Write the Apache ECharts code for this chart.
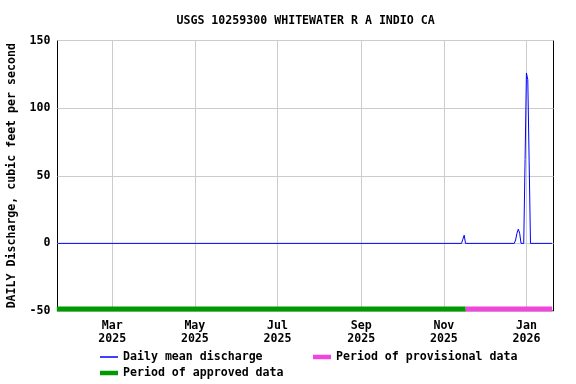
<!DOCTYPE html>
<html>
<head>
<meta charset="utf-8">
<script src="https://cdn.jsdelivr.net/npm/echarts@6/dist/echarts.min.js"></script>
<style>html,body{margin:0;padding:0;background:#fff}#c{width:576px;height:384px}</style>
</head>
<body>
<div id="c"></div>
<script>
// ---- data ----
const titleText = 'USGS 10259300 WHITEWATER R A INDIO CA';
const yAxisTitle = 'DAILY Discharge, cubic feet per second';
const dischargeDates = ['2025-01-20','2025-11-14','2025-11-15','2025-11-16','2025-11-17',
  '2025-12-23','2025-12-24','2025-12-25','2025-12-26','2025-12-27','2025-12-28',
  '2025-12-30','2025-12-31','2026-01-01','2026-01-02','2026-01-03','2026-01-04','2026-01-20'];
const dischargeValues = [0,0,3,6,0,
  0,2.5,7.5,10.5,7.5,0,
  0,62,126,121,61,0,0];
const approvedPeriod = ['2025-01-19','2025-11-17'];
const provisionalPeriod = ['2025-11-17','2026-01-20'];
const periodLevel = -48.6;
const xTickDates = ['2025-03-01','2025-05-01','2025-07-01','2025-09-01','2025-11-01','2026-01-01'];
const xMin = '2025-01-19T12:00:00';
const xMax = '2026-01-21';
const monthNames = ['Jan','Feb','Mar','Apr','May','Jun','Jul','Aug','Sep','Oct','Nov','Dec'];

function parseLocal(s){
  const [d,t] = s.split('T');
  const p = d.split('-').map(Number);
  let h=0,m=0;
  if (t){ const q=t.split(':').map(Number); h=q[0]; m=q[1]; }
  return new Date(p[0], p[1]-1, p[2], h, m).getTime();
}

const FONT = 'DejaVu Sans Mono';
const FS = 11.6;
const txt = {fontFamily: FONT, fontWeight: 'bold', fontSize: FS, color: '#000'};

const chart = echarts.init(document.getElementById('c'), null, {renderer: 'canvas'});
const xTickVals = xTickDates.map(parseLocal);

chart.setOption({
  animation: false,
  backgroundColor: '#fff',
  title: {
    text: titleText, left: 305.6, top: 14.5, textAlign: 'center', padding: 0,
    textStyle: Object.assign({}, txt)
  },
  grid: {
    left: 57.5, right: 22.5, top: 40.5, bottom: 73,
    show: true, borderColor: '#000', borderWidth: 1, backgroundColor: 'transparent',
    containLabel: false, outerBoundsMode: 'none'
  },
  legend: [
    {left: 100, top: 351, padding: 0, itemWidth: 18, itemHeight: 1.5, icon: 'rect',
     data: ['Daily mean discharge'], textStyle: Object.assign({}, txt)},
    {left: 313, top: 351, padding: 0, itemWidth: 18, itemHeight: 4.5, icon: 'rect',
     data: ['Period of provisional data'], textStyle: Object.assign({}, txt)},
    {left: 100, top: 367, padding: 0, itemWidth: 18, itemHeight: 4.5, icon: 'rect',
     data: ['Period of approved data'], textStyle: Object.assign({}, txt)}
  ],
  xAxis: {
    type: 'value',
    min: parseLocal(xMin), max: parseLocal(xMax),
    axisLine: {show: false},
    axisTick: {show: false, customValues: xTickVals},
    splitLine: {show: true, lineStyle: {color: '#cccccc', width: 1}},
    axisLabel: Object.assign({}, txt, {
      customValues: xTickVals, margin: 8.5, lineHeight: 13, align: 'center',
      showMinLabel: true, showMaxLabel: true,
      formatter: function(v){ const d = new Date(v); return monthNames[d.getMonth()] + '\n' + d.getFullYear(); }
    })
  },
  yAxis: {
    type: 'value', min: -50, max: 150, interval: 50,
    name: yAxisTitle, nameLocation: 'middle', nameGap: 40, nameRotate: 90,
    nameTextStyle: Object.assign({}, txt),
    axisLine: {show: false},
    axisTick: {show: false},
    splitLine: {show: true, lineStyle: {color: '#cccccc', width: 1}},
    axisLabel: Object.assign({}, txt, {margin: 7})
  },
  series: [
    {
      name: 'Daily mean discharge', type: 'line', symbol: 'none', showSymbol: false,
      color: '#0000ff', lineStyle: {color: '#0000ff', width: 1}, z: 3,
      data: dischargeDates.map((d,i) => [parseLocal(d), dischargeValues[i]])
    },
    {
      name: 'Period of provisional data', type: 'line', symbol: 'none', showSymbol: false,
      color: '#f046dc', lineStyle: {color: '#f046dc', width: 5, cap: 'butt'}, z: 4, clip: false,
      data: provisionalPeriod.map(d => [parseLocal(d), periodLevel])
    },
    {
      name: 'Period of approved data', type: 'line', symbol: 'none', showSymbol: false,
      color: '#009a00', lineStyle: {color: '#009a00', width: 5, cap: 'butt'}, z: 4, clip: false,
      data: approvedPeriod.map(d => [parseLocal(d), periodLevel])
    }
  ]
});
</script>
</body>
</html>
